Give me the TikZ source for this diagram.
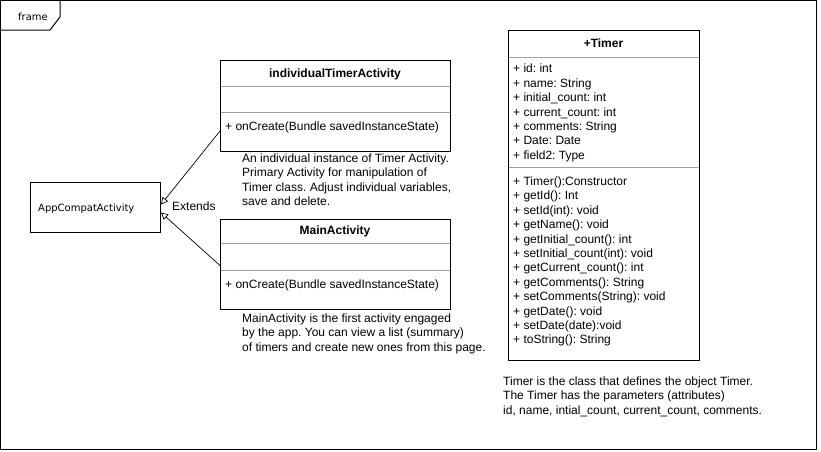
\documentclass[tikz,border=0pt]{standalone}
\usepackage{fontspec}
\setmainfont{Liberation Sans}
\newfontfamily\verd{DejaVu Sans}
\usetikzlibrary{arrows.meta,calc}
\definecolor{sepgray}{HTML}{A0A0A0}
\frenchspacing
\tikzset{
  umlbox/.style={draw=black, line width=1pt, anchor=north west, inner sep=0pt},
  sepline/.style={draw=sepgray, line width=1pt},
  txt/.style={anchor=base west, inner sep=0pt, font=\fontsize{12}{14.4}\selectfont},
  ttl/.style={anchor=base, inner sep=0pt, font=\fontsize{12}{14.4}\selectfont\bfseries},
  vtxt/.style={anchor=base west, inner sep=0pt, font=\verd\fontsize{10}{12}\selectfont},
  ext/.style={draw=black, line width=0.7pt, -{Triangle[open,length=7pt,width=7pt]}},
}
\begin{document}
\begin{tikzpicture}[x=1pt,y=-1pt]
\useasboundingbox (0,0) rectangle (821,451);
% frame
\draw[line width=1pt] (0.5,0.5) rectangle (816,449);
\draw[line width=1pt] (0.5,30) -- (50,30) -- (60,17) -- (60,0.5);
\node[vtxt] (frl) at (18,20.5) {frame};

% AppCompatActivity
\node[umlbox, minimum width=130pt, minimum height=50pt] (app) at (30,182) {};
\node[vtxt] (appl) at (38,211.5) {AppCompatActivity};

% individualTimerActivity
\node[umlbox, minimum width=230pt, minimum height=91pt] (ita) at (220,60) {};
\draw[sepline] (220.5,86) -- (449.5,86);
\draw[sepline] (220.5,112) -- (449.5,112);
\node[ttl] (itat) at (335,77) {individualTimerActivity};
\node[txt] (itam) at (225,130) {+ onCreate(Bundle savedInstanceState)};
\node[txt, align=left, anchor=north west] (itan) at (242,153.5) {An individual instance of Timer Activity.\\Primary Activity for manipulation of\\Timer class. Adjust individual variables,\\save and delete.};

% MainActivity
\node[umlbox, minimum width=230pt, minimum height=90pt] (ma) at (220,218.5) {};
\draw[sepline] (220.5,243) -- (449.5,243);
\draw[sepline] (220.5,270) -- (449.5,270);
\node[ttl] (mat) at (335,234.5) {MainActivity};
\node[txt] (mam) at (225,288) {+ onCreate(Bundle savedInstanceState)};
\node[txt, align=left, anchor=north west] (man) at (242,313.5) {MainActivity is the first activity engaged\\by the app. You can view a list (summary)\\of timers and create new ones from this page.};

% Timer
\node[umlbox, minimum width=191pt, minimum height=330pt] (tm) at (508,30) {};
\draw[sepline] (508.5,57) -- (698.5,57);
\draw[sepline] (508.5,167) -- (698.5,167);
\node[ttl] (tmt) at (603.5,47) {+Timer};
\node[txt, align=left, anchor=north west] (tma) at (513,64) {+ id: int\\+ name: String\\+ initial\_count: int\\+ current\_count: int\\+ comments: String\\+ Date: Date\\+ field2: Type};
\node[txt, align=left, anchor=north west] (tmm) at (513,176.5) {+ Timer():Constructor\\+ getId(): Int\\+ setId(int): void\\+ getName(): void\\+ getInitial\_count(): int\\+ setInitial\_count(int): void\\+ getCurrent\_count(): int\\+ getComments(): String\\+ setComments(String): void\\+ getDate(): void\\+ setDate(date):void\\+ toString(): String};
\node[txt, align=left, anchor=north west] (tmn) at (503,376.5) {Timer is the class that defines the object Timer.\\The Timer has the parameters (attributes)\\id, name, intial\_count, current\_count, comments.};

% connectors
\draw[ext] ($(ita.south west)+(0,-21)$) -- ($(app.east)+(0,-3)$);
\draw[ext] ($(ma.south west)+(0,-44)$) -- ($(app.east)+(0,5)$);
\node[txt] (extl) at (172,210) {Extends};
\end{tikzpicture}
\end{document}
